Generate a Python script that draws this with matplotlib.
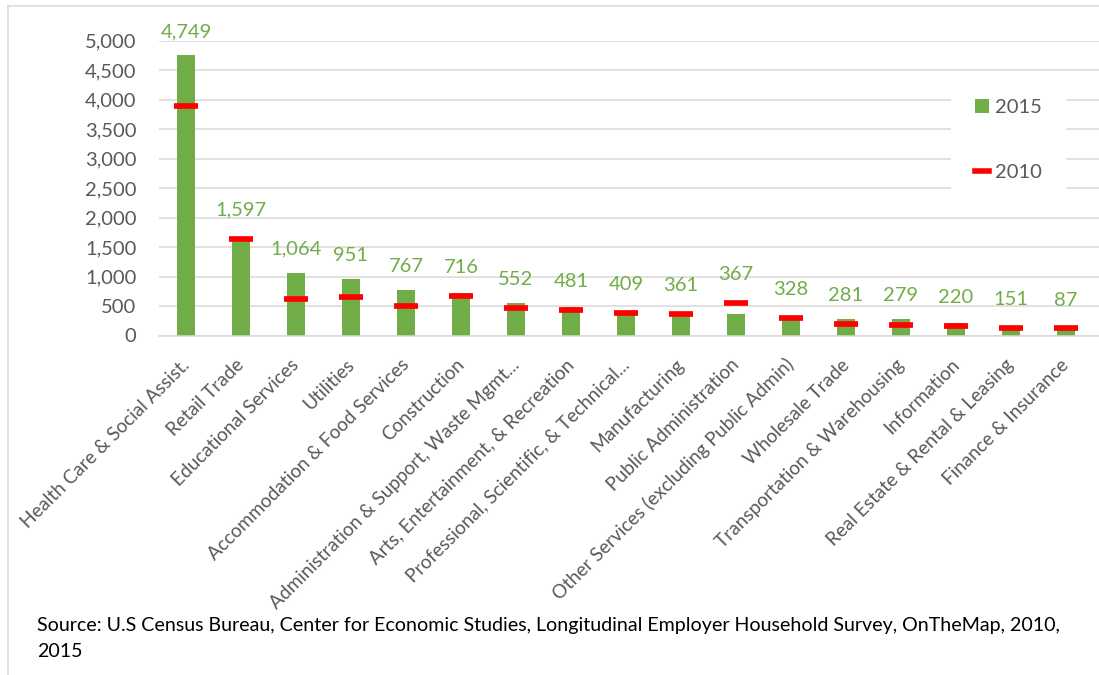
import matplotlib.pyplot as plt
import matplotlib.transforms as mtransforms
from matplotlib.patches import Patch
from matplotlib.lines import Line2D
import numpy as np

plt.rcParams['font.family'] = ['Lato', 'DejaVu Sans']

# industries (sorted by 2015 jobs)
categorias = ["Health Care & Social Assist.", "Retail Trade", "Educational Services",
              "Utilities", "Accommodation & Food Services", "Construction",
              "Administration & Support, Waste Mgmt...", "Arts, Entertainment, & Recreation",
              "Professional, Scientific, & Technical...", "Manufacturing",
              "Public Administration", "Other Services (excluding Public Admin)",
              "Wholesale Trade", "Transportation & Warehousing", "Information",
              "Real Estate & Rental & Leasing", "Finance & Insurance"]
empregos_2015 = [4749, 1597, 1064, 951, 767, 716, 552, 481, 409, 361, 367, 328, 281, 279, 220, 151, 87]
empregos_2010 = [3890, 1645, 622, 656, 498, 673, 464, 430, 380, 363, 549, 305, 203, 181, 159, 131, 119]
yticks = [0, 500, 1000, 1500, 2000, 2500, 3000, 3500, 4000, 4500, 5000]

verde = '#70AD47'
vermelho = '#FF0000'
cinza = '#595959'

W, H = 1099, 675
fig = plt.figure(figsize=(W/100, H/100), dpi=100)
# axes em pixels: esquerda 158.5, topo 40.7 (5000), base 335.5 (0)
ax = fig.add_axes([158.5/W, 1-335.5/H, (W-158.5)/W, (335.5-40.7)/H])

x = np.arange(len(categorias))
ax.bar(x, empregos_2015, width=0.31, color=verde, zorder=2)
ax.plot(x, empregos_2010, ls='none', marker='_', ms=16.8, mew=4.1, color=vermelho, zorder=3)

# rotulos de valor acima do maior entre barra e marcador
for i in range(len(x)):
    base = max(empregos_2015[i], empregos_2010[i] + 80)
    ax.annotate(format(empregos_2015[i], ','), (x[i], base), xytext=(0, 17),
                textcoords='offset points', ha='center', va='center',
                color=verde, fontsize=14.5, annotation_clip=False)

ax.set_ylim(0, 5000)
ax.set_xlim(-0.5, -0.5 + (W-158.5)/55.0)
ax.set_yticks(yticks)
ax.set_yticklabels([format(v, ',') for v in yticks])
ax.set_xticks(x)
ax.set_xticklabels(categorias, rotation=45, ha='right', va='baseline', rotation_mode='anchor')
ax.tick_params(axis='y', length=0, pad=16, labelsize=14.5, labelcolor=cinza)
ax.tick_params(axis='x', length=0, pad=22, labelsize=13.7, labelcolor=cinza)
desloc = mtransforms.ScaledTranslation(3/72, 0, fig.dpi_scale_trans)
for lbl in ax.get_xticklabels():
    lbl.set_transform(lbl.get_transform() + desloc)
ax.grid(axis='y', color='#D9D9D9', lw=1.1, zorder=0)
ax.set_axisbelow(True)
for s in ['top', 'right', 'left']:
    ax.spines[s].set_visible(False)
ax.spines['bottom'].set_color('#D9D9D9')
ax.spines['bottom'].set_linewidth(1.1)

handles = [Patch(facecolor=verde, edgecolor='none', label='2015'),
           Line2D([0], [0], color=vermelho, lw=4, label='2010')]
leg = fig.legend(handles=handles, loc='center', bbox_to_anchor=(1008.5/W, 1-140/H),
                 fontsize=14.5, frameon=True, framealpha=1, edgecolor='none',
                 facecolor='white', labelspacing=2.4, handlelength=0.65,
                 handleheight=0.7, handletextpad=0.3, borderpad=1.2, fancybox=False)
for t in leg.get_texts():
    t.set_color(cinza)

fig.text(37/W, 1-625/H, "Source: U.S Census Bureau, Center for Economic Studies, Longitudinal "
         "Employer Household Survey, OnTheMap, 2010,", fontsize=14.1, va='center', color='black')
fig.text(37/W, 1-651.7/H, "2015", fontsize=14.1, va='center', color='black')

# moldura cinza do grafico
fig.add_artist(Line2D([8/W, 8/W], [0, 1-6/H], color='#D9D9D9', lw=1.1))
fig.add_artist(Line2D([8/W, 1], [1-6/H, 1-6/H], color='#D9D9D9', lw=1.1))

fig.savefig('out.png', dpi=100)
